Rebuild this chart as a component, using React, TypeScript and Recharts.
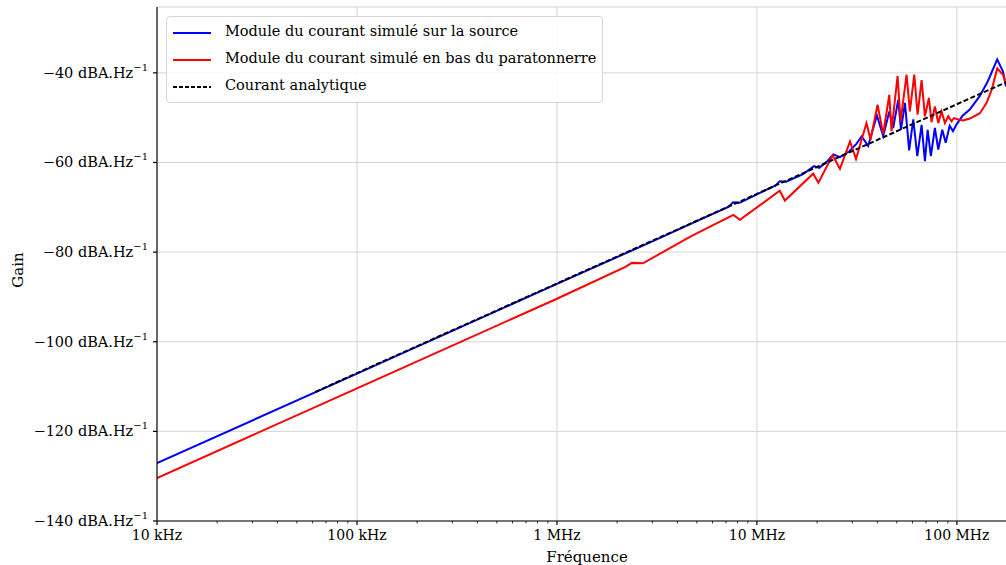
import { CartesianGrid, Line, LineChart, ReferenceLine, XAxis, YAxis } from "recharts";

const FONT = "'DejaVu Serif', serif";

// axis ticks
const xTicks = [1e4, 1e5, 1e6, 1e7, 1e8];
const xTickLabels = ["10 kHz", "100 kHz", "1 MHz", "10 MHz", "100 MHz"];
const minorMultipliers = [2, 3, 4, 5, 6, 7, 8, 9];
const yTicks = [-140, -120, -100, -80, -60, -40];

// simulated current at the source (frequency in MHz, gain in dB)
const blueMHz = [
  0.01, 0.1, 1, 3, 5, 7.2, 7.6, 8.2, 10, 12.4, 13.0, 14.0, 17.0, 19.3, 20.5, 22.5, 24.1, 26.0,
  29.0, 31.5, 33.4, 36.0, 39.8, 42.8, 45.9, 48.0, 50.9, 52.5, 55.0, 57.7, 60.5, 63.4, 66.6,
  69.2, 71.4, 74.1, 77.6, 80.7, 84.5, 87.9, 92.0, 95.6, 99.3, 107, 116, 130, 143, 159, 170, 176,
];
const blueGain = [
  -127.1, -107.1, -87.1, -77.6, -73.1, -69.9, -68.9, -69.0, -67.1, -65.1, -64.2, -64.3, -62.6,
  -60.8, -61.2, -59.7, -58.2, -58.8, -57.5, -55.8, -54.2, -56.3, -49.5, -54.1, -48.6, -52.3,
  -46.0, -52.7, -46.7, -57.3, -50.4, -58.6, -51.6, -59.7, -52.7, -58.6, -52.3, -57.1, -52.7,
  -55.6, -51.8, -53.0, -51.6, -49.5, -48.2, -45.2, -41.8, -37.0, -39.7, -43.0,
];

// simulated current at the bottom of the lightning rod
const redMHz = [
  0.01, 0.1, 1.0, 2.2, 2.37, 2.69, 4.62, 7.62, 8.22, 13.0, 13.8, 19.1, 20.3, 23.9, 26.0, 29.2,
  31.3, 35.3, 37.0, 40.1, 42.8, 45.9, 47.1, 50.5, 52.3, 56.0, 58.2, 61.2, 63.6, 66.6, 69.2, 72.4,
  74.7, 77.6, 80.7, 83.8, 87.1, 90.5, 94.0, 96.6, 101.6, 107.6, 116.1, 130.3, 140.8, 149.1,
  159.1, 170.4, 175.7,
];
const redGain = [
  -130.4, -110.4, -90.4, -83.3, -82.4, -82.5, -76.6, -71.7, -72.8, -66.3, -68.5, -62.5, -64.5,
  -58.4, -61.4, -55.3, -59.2, -51.2, -54.9, -47.1, -53.6, -44.9, -53.0, -40.7, -50.8, -40.4,
  -48.6, -40.4, -49.3, -41.6, -49.7, -45.6, -51.0, -47.5, -51.2, -48.6, -51.2, -49.7, -50.8,
  -50.1, -50.4, -50.6, -50.2, -49.0, -46.7, -43.8, -39.0, -40.5, -42.3,
];

// analytic current
const analyticMHz = [0.062, 0.1, 1, 10, 100, 176];
const analyticGain = [-111.2, -107.0, -87.0, -67.0, -47.0, -42.1];

const seriesNames = [
  "Module du courant simulé sur la source",
  "Module du courant simulé en bas du paratonnerre",
  "Courant analytique",
];

const toPoints = (mhz: number[], gain: number[]) => mhz.map((m, i) => ({ f: m * 1e6, g: gain[i] }));
const blueData = toPoints(blueMHz, blueGain);
const redData = toPoints(redMHz, redGain);
const analyticData = toPoints(analyticMHz, analyticGain);

const minorTicks = xTicks.flatMap((d) => minorMultipliers.map((m) => d * m)).filter((v) => v < 1.76e8);
const allXTicks = [...xTicks, ...minorTicks];

function XTick(props: any) {
  const { x, y, payload } = props;
  const i = xTicks.indexOf(payload.value);
  const major = i >= 0;
  return (
    <g>
      <line x1={x} x2={x} y1={y} y2={y + (major ? 4 : 2.5)} stroke="#000" strokeWidth={major ? 1.2 : 0.8} />
      {major && (
        <text x={x} y={y + 19} textAnchor="middle" fontFamily={FONT} fontSize={14} fill="#000">
          {xTickLabels[i]}
        </text>
      )}
    </g>
  );
}

function YTick(props: any) {
  const { x, y, payload } = props;
  const v = payload.value as number;
  return (
    <g>
      <line x1={x} x2={x - 4} y1={y} y2={y} stroke="#000" strokeWidth={1.2} />
      <text x={x - 9} y={y + 5} textAnchor="end" fontFamily={FONT} fontSize={14.5} fill="#000">
        {"\u2212" + Math.abs(v) + " dBA.Hz"}
        <tspan dy={-7} fontSize={10}>
          {"\u22121"}
        </tspan>
      </text>
    </g>
  );
}

const legendStyles = [
  { stroke: "#0000ff", dash: undefined },
  { stroke: "#ff0000", dash: undefined },
  { stroke: "#000000", dash: "4 2" },
];

function LegendBox() {
  return (
    <div
      style={{
        position: "absolute",
        left: 166,
        top: 16,
        width: 437,
        height: 87,
        boxSizing: "border-box",
        border: "1px solid #d6d6d6",
        borderRadius: 4,
        background: "rgba(255,255,255,0.85)",
        fontFamily: FONT,
        fontSize: 14.5,
      }}
    >
      {seriesNames.map((name, i) => (
        <div key={name} style={{ position: "absolute", left: 0, top: 2 + i * 27, height: 27, width: "100%" }}>
          <svg width={50} height={27} style={{ position: "absolute", left: 5, top: 0 }}>
            <line x1={1} x2={39} y1={14} y2={14} stroke={legendStyles[i].stroke} strokeWidth={2} strokeDasharray={legendStyles[i].dash} />
          </svg>
          <span style={{ position: "absolute", left: 58, top: 4, whiteSpace: "nowrap" }}>{name}</span>
        </div>
      ))}
    </div>
  );
}

export default function App() {
  return (
    <div style={{ position: "absolute", left: 0, top: 0, width: 1006, height: 565, background: "#fff" }}>
      <LineChart width={1006} height={565} margin={{ top: 7, right: 0, bottom: 0, left: 0 }}>
        <CartesianGrid vertical={false} stroke="#d4d4d4" strokeWidth={1} />
        {xTicks.slice(1).map((t) => (
          <ReferenceLine key={t} x={t} stroke="#d4d4d4" strokeWidth={1} />
        ))}
        <XAxis
          dataKey="f"
          type="number"
          scale="log"
          domain={[1e4, 1.76e8]}
          allowDataOverflow
          ticks={allXTicks}
          interval={0}
          tick={<XTick />}
          tickLine={false}
          tickSize={0}
          tickMargin={0}
          height={44}
          axisLine={{ stroke: "#000", strokeWidth: 1.2 }}
        />
        <XAxis xAxisId="top" orientation="top" type="number" scale="log" domain={[1e4, 1.76e8]} height={0} tick={false} tickLine={false} axisLine={{ stroke: "#000", strokeWidth: 1.2 }} />
        <YAxis
          type="number"
          domain={[-140, -25.3]}
          allowDataOverflow
          ticks={yTicks}
          interval={0}
          tick={<YTick />}
          tickLine={false}
          tickSize={0}
          tickMargin={0}
          width={157}
          axisLine={{ stroke: "#000", strokeWidth: 1.2 }}
        />
        <Line data={blueData} dataKey="g" name={seriesNames[0]} type="linear" stroke="#0000ff" strokeWidth={2} dot={false} isAnimationActive={false} />
        <Line data={redData} dataKey="g" name={seriesNames[1]} type="linear" stroke="#ff0000" strokeWidth={2} dot={false} isAnimationActive={false} />
        <Line data={analyticData} dataKey="g" name={seriesNames[2]} type="linear" stroke="#000000" strokeWidth={2} strokeDasharray="5 2.4" dot={false} isAnimationActive={false} />
      </LineChart>
      <LegendBox />
      <div
        style={{
          position: "absolute",
          left: 18,
          top: 270,
          transform: "translate(-50%, -50%) rotate(-90deg)",
          fontFamily: FONT,
          fontSize: 15,
          whiteSpace: "nowrap",
        }}
      >
        Gain
      </div>
      <div
        style={{
          position: "absolute",
          left: 587,
          top: 557,
          transform: "translate(-50%, -50%)",
          fontFamily: FONT,
          fontSize: 15,
          whiteSpace: "nowrap",
        }}
      >
        Fréquence
      </div>
    </div>
  );
}
